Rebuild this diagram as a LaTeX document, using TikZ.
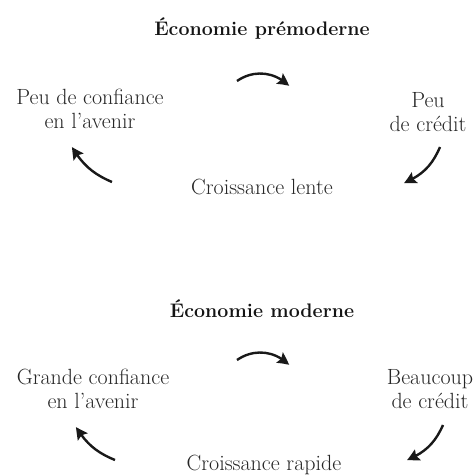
\documentclass[tikz,border=0pt]{standalone}
\usetikzlibrary{arrows.meta,bending}
\begin{document}
\begin{tikzpicture}[
  lbl/.style={align=center, inner sep=0pt, font=\fontsize{22}{24.5}\selectfont, text=black!85},
  ttl/.style={inner sep=0pt, font=\fontsize{19.6}{22}\selectfont\bfseries, text=black!92},
  cyc/.style={line width=2.4pt, -{Stealth[length=12pt,width=12pt,inset=2pt,bend]}, black!90}
]
\useasboundingbox (0,0) rectangle (475pt,476pt);
\begin{scope}[x=1pt,y=1pt]
% ---- upper cycle
\node[ttl] (t1) at (262,447) {Économie prémoderne};
\node[lbl] (a1) at (90,367) {Peu de confiance\\en l’avenir};
\node[lbl] (b1) at (428,364) {Peu\\de crédit};
\node[lbl] (c1) at (262,289) {Croissance lente};
\coordinate (p1s) at (237,395); \coordinate (p1e) at (289,390);
\coordinate (q1s) at (440,329); \coordinate (q1e) at (404,293);
\coordinate (r1s) at (112,294); \coordinate (r1e) at (72,329);
\draw[cyc] (p1s) to[bend left=40] (p1e);
\draw[cyc] (q1s) to[bend left=22] (q1e);
\draw[cyc] (r1s) to[bend left=18] (r1e);
% ---- lower cycle
\node[ttl] (t2) at (262,167) {Économie moderne};
\node[lbl] (a2) at (93,87) {Grande confiance\\en l’avenir};
\node[lbl] (b2) at (430,87) {Beaucoup\\de crédit};
\node[lbl] (c2) at (264,11) {Croissance rapide};
\coordinate (p2s) at (237,116); \coordinate (p2e) at (289,111);
\coordinate (q2s) at (443,51); \coordinate (q2e) at (407,16);
\coordinate (r2s) at (115,16); \coordinate (r2e) at (76,49);
\draw[cyc] (p2s) to[bend left=40] (p2e);
\draw[cyc] (q2s) to[bend left=22] (q2e);
\draw[cyc] (r2s) to[bend left=18] (r2e);
\end{scope}
\end{tikzpicture}
\end{document}
